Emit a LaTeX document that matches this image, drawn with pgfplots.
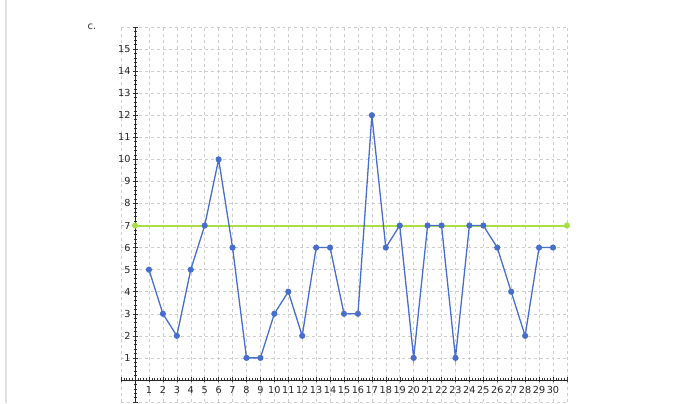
\documentclass[border=0pt]{standalone}
\usepackage{pgfplots}
\pgfplotsset{compat=1.18}
\usepackage{fontspec}
\setmainfont{DejaVu Sans}
\definecolor{serieblue}{RGB}{72,110,205}
\definecolor{limitgreen}{RGB}{170,222,70}
\definecolor{gridgray}{RGB}{205,205,205}
\begin{document}
\begin{tikzpicture}[x=1bp,y=1bp]
\useasboundingbox (0,0) rectangle (700,403);
\draw[black!12, line width=1.5bp] (6,0) -- (6,403);
\node[font=\fontsize{10}{12}\selectfont, text=black!80] at (92,376) {c.};
\begin{axis}[
  at={(121.1bp,1bp)}, anchor=south west,
  scale only axis, width=445.8bp, height=375bp,
  xmin=-1, xmax=31, ymin=-1, ymax=16,
  axis lines=middle,
  axis line style={-, black!85, line width=0.6bp},
  xtick={-1,0,...,31},
  xticklabels={,,1,2,3,4,5,6,7,8,9,10,11,12,13,14,15,16,17,18,19,20,21,22,23,24,25,26,27,28,29,30,},
  ytick={-1,0,...,16},
  yticklabels={,,1,2,3,4,5,6,7,8,9,10,11,12,13,14,15,},
  minor x tick num=4, minor y tick num=4,
  tick align=center,
  major tick length=5bp, minor tick length=3bp,
  tick style={black!80, line width=0.45bp},
  grid=major,
  major grid style={gridgray, dashed, line width=0.5bp},
  ticklabel style={font=\fontsize{9.7}{11}\selectfont, text=black!85},
  /pgf/number format/assume math mode=true,
  xticklabel style={yshift=-0.5bp, inner xsep=0pt},
  yticklabel style={xshift=1.5bp},
  clip=false,
]
\addplot[draw=limitgreen, line width=2bp, mark=*, mark size=2bp,
  mark options={fill=limitgreen, draw=limitgreen, solid}] coordinates {(0,7) (31,7)};
\addplot[draw=serieblue, line width=1.3bp, mark=*, mark size=2.4bp,
  mark options={fill=serieblue, draw=serieblue}] coordinates {
(1,5) (2,3) (3,2) (4,5) (5,7) (6,10) (7,6) (8,1) (9,1) (10,3)
(11,4) (12,2) (13,6) (14,6) (15,3) (16,3) (17,12) (18,6) (19,7) (20,1)
(21,7) (22,7) (23,1) (24,7) (25,7) (26,6) (27,4) (28,2) (29,6) (30,6)
};
\end{axis}
\end{tikzpicture}
\end{document}
